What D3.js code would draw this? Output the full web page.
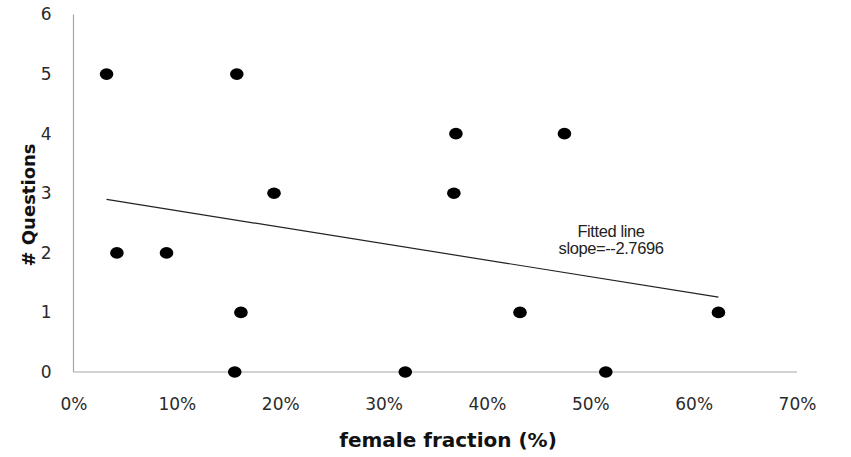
<!DOCTYPE html>
<html><head><meta charset="utf-8">
<script src="https://cdn.jsdelivr.net/npm/d3@7"></script>
<style>html,body{margin:0;padding:0;background:#fff;}svg{display:block;}</style>
</head><body>
<script>
// Data (female fraction as a proportion, number of questions)
const femaleFraction = [0.032, 0.158, 0.370, 0.475, 0.194, 0.368, 0.042, 0.090, 0.162, 0.432, 0.624, 0.156, 0.321, 0.515];
const questions      = [5,     5,     4,     4,     3,     3,     2,     2,     1,     1,     1,     0,     0,     0];
const xTicks = [0, 0.1, 0.2, 0.3, 0.4, 0.5, 0.6, 0.7];
const yTicks = [0, 1, 2, 3, 4, 5, 6];
const fitSlope = -2.7696;
const fitIntercept = 2.985;
const fitLabel = ["Fitted line", "slope=--2.7696"];

const W = 851, H = 457;
const svg = d3.select("body").append("svg").attr("width", W).attr("height", H);

const x = d3.scaleLinear().domain([0, 0.7]).range([73.5, 797]);
const y = d3.scaleLinear().domain([0, 6]).range([372, 14.5]);

// axes lines
svg.append("line").attr("x1", x(0)).attr("x2", x(0)).attr("y1", y(6)).attr("y2", y(0))
  .attr("stroke", "#a6a6a6").attr("stroke-width", 1.2);
svg.append("line").attr("x1", x(0)).attr("x2", x(0.7)).attr("y1", y(0)).attr("y2", y(0))
  .attr("stroke", "#a6a6a6").attr("stroke-width", 1.2);

// tick labels via d3 axes (no tick lines)
const xAxis = d3.axisBottom(x).tickValues(xTicks).tickFormat(d3.format(".0%")).tickSize(0).tickPadding(0);
const gx = svg.append("g").attr("transform", `translate(0,${y(0) + 32})`).call(xAxis);
gx.select(".domain").remove();
gx.selectAll("text").attr("font-family", "DejaVu Sans").attr("font-size", 17).attr("fill", "#2a2a2a")
  .attr("dy", "0.35em").attr("y", 0);

const yAxis = d3.axisLeft(y).tickValues(yTicks).tickFormat(d3.format("d")).tickSize(0).tickPadding(0);
const gy = svg.append("g").attr("transform", `translate(${x(0) - 22},0)`).call(yAxis);
gy.select(".domain").remove();
gy.selectAll("text").attr("font-family", "DejaVu Sans").attr("font-size", 17).attr("fill", "#2a2a2a");

// fitted line
const xMin = d3.min(femaleFraction), xMax = d3.max(femaleFraction);
svg.append("line")
  .attr("x1", x(xMin)).attr("y1", y(fitIntercept + fitSlope * xMin))
  .attr("x2", x(xMax)).attr("y2", y(fitIntercept + fitSlope * xMax))
  .attr("stroke", "#222").attr("stroke-width", 1.2);

// points
svg.append("g").selectAll("ellipse").data(femaleFraction).join("ellipse")
  .attr("cx", d => x(d)).attr("cy", (d, i) => y(questions[i]))
  .attr("rx", 6.8).attr("ry", 5.8).attr("fill", "#000");

// fit annotation
svg.append("text").attr("x", 611).attr("y", 237).attr("text-anchor", "middle")
  .attr("font-family", "Liberation Sans").attr("font-size", 16.5).attr("fill", "#222")
  .attr("letter-spacing", -0.4).text(fitLabel[0]);
svg.append("text").attr("x", 611).attr("y", 254).attr("text-anchor", "middle")
  .attr("font-family", "Liberation Sans").attr("font-size", 16.5).attr("fill", "#222")
  .attr("letter-spacing", -0.4).text(fitLabel[1]);

// axis titles
svg.append("text").attr("x", 448).attr("y", 447).attr("text-anchor", "middle")
  .attr("font-family", "DejaVu Sans").attr("font-weight", "bold").attr("font-size", 20).attr("fill", "#111")
  .text("female fraction (%)");
svg.append("text").attr("transform", `translate(29,205) rotate(-90)`).attr("text-anchor", "middle")
  .attr("dy", "0.35em")
  .attr("font-family", "DejaVu Sans").attr("font-weight", "bold").attr("font-size", 18).attr("fill", "#111")
  .text("# Questions");
</script>
</body></html>
